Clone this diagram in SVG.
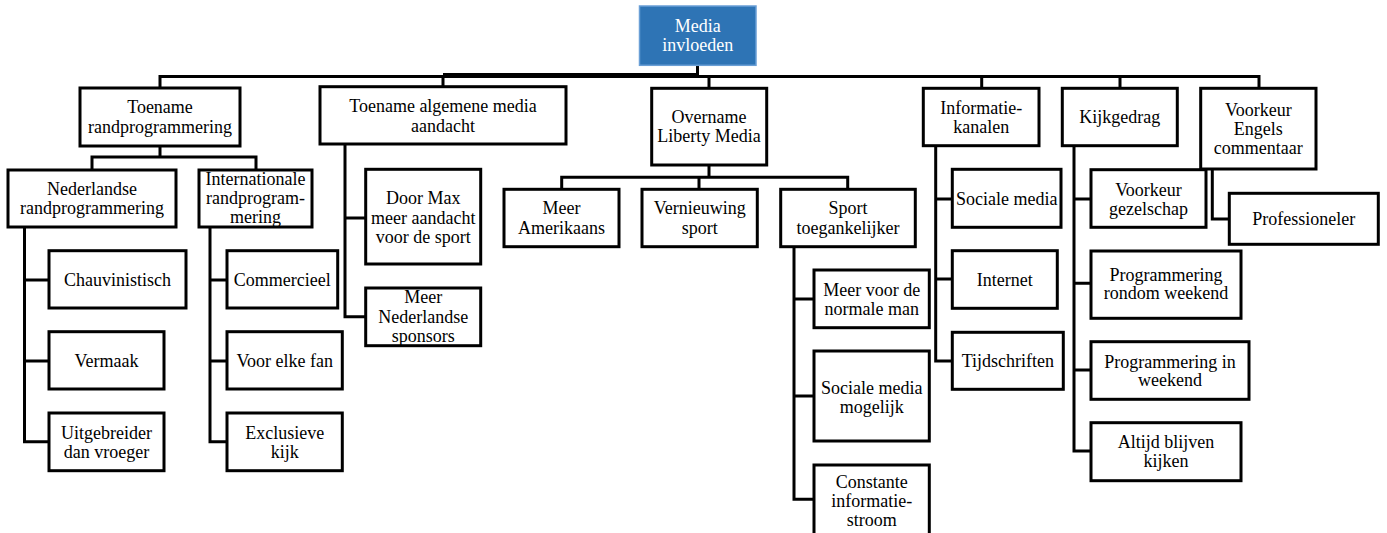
<svg xmlns="http://www.w3.org/2000/svg" width="1387" height="533" viewBox="0 0 1387 533">
<style>
.b{fill:#fff;stroke:#000;stroke-width:3}
.r{fill:#2E74B5;stroke:#6A9FD6;stroke-width:1.5}
.t text{font-family:'Liberation Serif','Times New Roman','DejaVu Serif',serif;font-size:18px;fill:#000;text-anchor:middle}
.t text.w{fill:#fff}
#connectors path{fill:none;stroke:#000;stroke-width:3}
</style>
<rect width="1387" height="533" fill="#fff"/>
<g id="connectors">
<path d="M697.5 65V76.5M160 88V76.5H1259V88M443 76.5V87M709 76.5V88M981.7 76.5V88M1120 76.5V88M443 74.5H697.5"/>
<path d="M160 146V157M92 170V157H256V170"/>
<path d="M24.5 227V441.7H49M24.5 280H49M24.5 361H49"/>
<path d="M210 227V441.7H227M210 280H227M210 361H227"/>
<path d="M345 144V316.7H366M345 218H366"/>
<path d="M709 165V177.3M561.7 189.3V177.3H847.7V189.3M699 177.3V189.3"/>
<path d="M794 246.7V499.3H814M794 299H814M794 396H814"/>
<path d="M935.7 145.7V361H952.3M935.7 199H952.3M935.7 279H952.3"/>
<path d="M1074 145.7V451H1091M1074 199H1091M1074 283.3H1091M1074 370H1091"/>
<path d="M1212.3 169V219H1229.3"/>
</g>
<g class="t" font-family="Liberation Serif, serif">
<g id="n-root"><rect class="r" x="639.5" y="6" width="116.5" height="59.3"/><text class="w" x="697.7" y="32">Media</text><text class="w" x="697.7" y="51">invloeden</text></g>
<g id="n-toename-rand"><rect class="b" x="80" y="88" width="160" height="58"/><text x="160" y="113">Toename</text><text x="160" y="132.7">randprogrammering</text></g>
<g id="n-toename-alg"><rect class="b" x="320" y="86.7" width="246" height="57.3"/><text x="443" y="112">Toename algemene media</text><text x="443" y="131.7">aandacht</text></g>
<g id="n-overname"><rect class="b" x="651.7" y="88.3" width="115" height="76.7"/><text x="709" y="123.3">Overname</text><text x="709" y="142">Liberty Media</text></g>
<g id="n-informatie"><rect class="b" x="923.3" y="88.3" width="115.7" height="57.4"/><text x="981.2" y="113.7">Informatie-</text><text x="981.2" y="132.7">kanalen</text></g>
<g id="n-kijkgedrag"><rect class="b" x="1062.3" y="88.3" width="115" height="57.4"/><text x="1119.8" y="123.3">Kijkgedrag</text></g>
<g id="n-voorkeur-engels"><rect class="b" x="1200.7" y="88.3" width="115.3" height="80.7"/><text x="1258.3" y="116">Voorkeur</text><text x="1258.3" y="135.3">Engels</text><text x="1258.3" y="154.3">commentaar</text></g>
<g id="n-nederlandse"><rect class="b" x="8" y="170" width="168" height="57"/><text x="92" y="195">Nederlandse</text><text x="92" y="214">randprogrammering</text></g>
<g id="n-internationale"><rect class="b" x="199" y="170" width="113" height="57"/><text x="255.5" y="185">Internationale</text><text x="255.5" y="204">randprogram-</text><text x="255.5" y="223">mering</text></g>
<g id="n-chauvinistisch"><rect class="b" x="49" y="250.7" width="137" height="57.3"/><text x="117.5" y="286">Chauvinistisch</text></g>
<g id="n-vermaak"><rect class="b" x="49" y="331.7" width="115" height="57.3"/><text x="106.5" y="367">Vermaak</text></g>
<g id="n-uitgebreider"><rect class="b" x="49" y="413" width="115" height="57.7"/><text x="106.5" y="438.7">Uitgebreider</text><text x="106.5" y="458.3">dan vroeger</text></g>
<g id="n-commercieel"><rect class="b" x="227" y="250.7" width="110.7" height="57.3"/><text x="282.3" y="286">Commercieel</text></g>
<g id="n-voor-elke-fan"><rect class="b" x="227" y="331.7" width="115.3" height="57.3"/><text x="284.7" y="367">Voor elke fan</text></g>
<g id="n-exclusieve"><rect class="b" x="227" y="413" width="115.3" height="57.7"/><text x="284.7" y="438.7">Exclusieve</text><text x="284.7" y="458.3">kijk</text></g>
<g id="n-door-max"><rect class="b" x="365.7" y="169.3" width="115" height="94.7"/><text x="423.2" y="204">Door Max</text><text x="423.2" y="224">meer aandacht</text><text x="423.2" y="243">voor de sport</text></g>
<g id="n-meer-nl-sponsors"><rect class="b" x="365.7" y="288" width="115" height="57.7"/><text x="423.2" y="303">Meer</text><text x="423.2" y="322.5">Nederlandse</text><text x="423.2" y="342">sponsors</text></g>
<g id="n-meer-amerikaans"><rect class="b" x="504" y="189.3" width="115" height="57.4"/><text x="561.5" y="214.3">Meer</text><text x="561.5" y="233.7">Amerikaans</text></g>
<g id="n-vernieuwing"><rect class="b" x="642" y="189.3" width="115.3" height="57.4"/><text x="699.7" y="214.3">Vernieuwing</text><text x="699.7" y="233.7">sport</text></g>
<g id="n-sport-toeg"><rect class="b" x="780.7" y="189.3" width="134.6" height="57.4"/><text x="848" y="214.3">Sport</text><text x="848" y="233.7">toegankelijker</text></g>
<g id="n-normale-man"><rect class="b" x="814" y="270" width="115.3" height="57.7"/><text x="871.7" y="296">Meer voor de</text><text x="871.7" y="315">normale man</text></g>
<g id="n-sociale-mogelijk"><rect class="b" x="814" y="351" width="115.3" height="90"/><text x="871.7" y="393.7">Sociale media</text><text x="871.7" y="412.7">mogelijk</text></g>
<g id="n-constante"><rect class="b" x="814" y="465" width="115.3" height="80"/><text x="871.7" y="487.7">Constante</text><text x="871.7" y="506.7">informatie-</text><text x="871.7" y="526">stroom</text></g>
<g id="n-sociale-media"><rect class="b" x="952.3" y="169.3" width="108.7" height="58"/><text x="1006.7" y="205">Sociale media</text></g>
<g id="n-internet"><rect class="b" x="952.3" y="250.7" width="105" height="57.6"/><text x="1004.8" y="286">Internet</text></g>
<g id="n-tijdschriften"><rect class="b" x="952.3" y="332.3" width="111" height="57"/><text x="1007.8" y="367">Tijdschriften</text></g>
<g id="n-gezelschap"><rect class="b" x="1091" y="169.7" width="115" height="57.6"/><text x="1148.5" y="196">Voorkeur</text><text x="1148.5" y="215.3">gezelschap</text></g>
<g id="n-rondom-weekend"><rect class="b" x="1091" y="251" width="150" height="67.3"/><text x="1166" y="281">Programmering</text><text x="1166" y="299.3">rondom weekend</text></g>
<g id="n-in-weekend"><rect class="b" x="1091" y="341.7" width="158" height="57.6"/><text x="1170" y="367.7">Programmering in</text><text x="1170" y="386">weekend</text></g>
<g id="n-altijd"><rect class="b" x="1091" y="422.7" width="150" height="58"/><text x="1166" y="448.3">Altijd blijven</text><text x="1166" y="467">kijken</text></g>
<g id="n-professioneler"><rect class="b" x="1229.3" y="193.3" width="149" height="51"/><text x="1303.8" y="225.3">Professioneler</text></g>
</g>
</svg>
